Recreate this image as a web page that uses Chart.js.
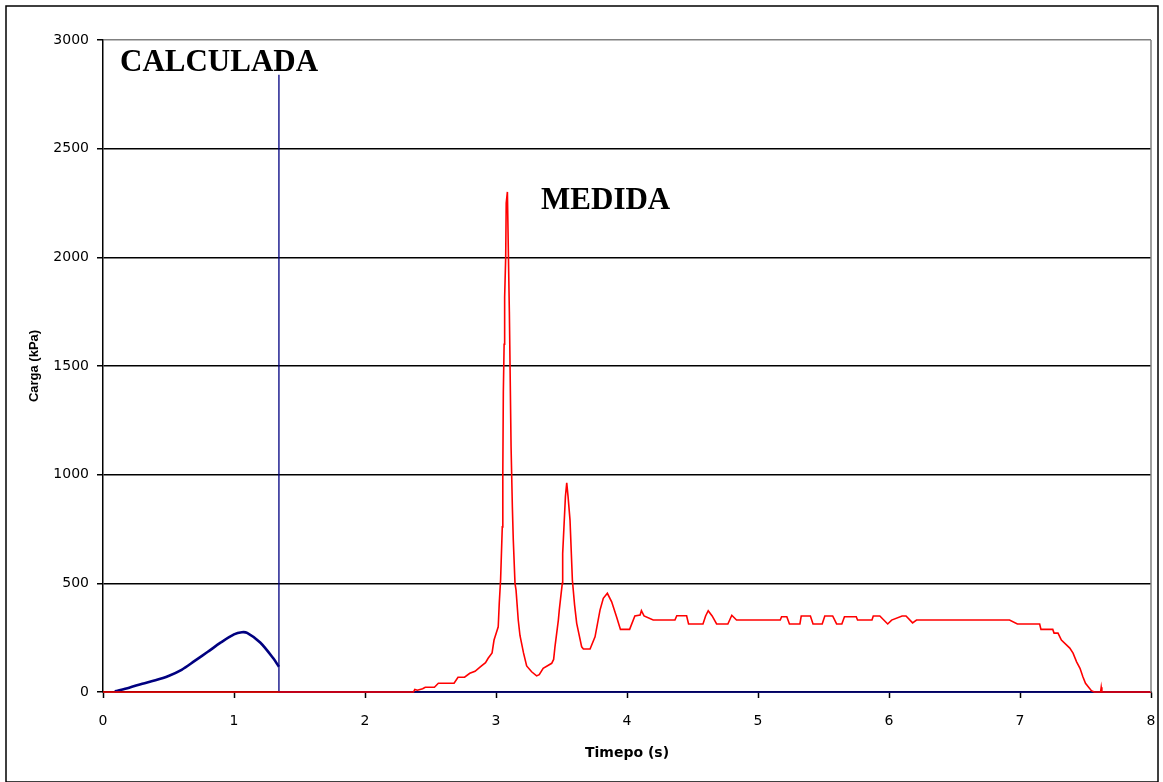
<!DOCTYPE html>
<html>
<head>
<meta charset="utf-8">
<script src="https://cdn.jsdelivr.net/npm/chart.js@4"></script>
<style>
  html, body { margin: 0; padding: 0; background: #fff; }
  #wrap { width: 1163px; height: 782px; }
</style>
</head>
<body>
<div id="wrap"><canvas id="myChart" width="1163" height="782"></canvas></div>
<script>
// calculated load (s, kPa)
const calcTime = [0.09, 0.2, 0.3, 0.4, 0.5, 0.6, 0.7, 0.8, 0.9, 1.0, 1.06, 1.1, 1.2, 1.3, 1.343];
const calcLoad = [3, 20, 38, 54, 74, 102, 143, 185, 228, 265, 275, 272, 228, 155, 116];

// vertical marker + zero tail of the calculated series
const markTime = [1.343, 1.343, 1.343, 8];
const markLoad = [116, 2840, 0, 0];

// measured load (s, kPa)
const measTime = [0, 2.37, 2.38, 2.40, 2.44, 2.46, 2.53, 2.56, 2.68, 2.71, 2.76, 2.80, 2.84, 2.88, 2.92, 2.94, 2.97, 2.985,
    3.005, 3.017, 3.025, 3.035, 3.048, 3.052, 3.056, 3.062, 3.066, 3.074, 3.078, 3.087, 3.095, 3.102, 3.107, 3.115,
    3.125, 3.132, 3.145, 3.153, 3.170, 3.183, 3.21, 3.234, 3.272, 3.31, 3.33, 3.36, 3.425, 3.44, 3.45, 3.476, 3.483,
    3.506, 3.509, 3.53, 3.54, 3.55, 3.565, 3.583, 3.6, 3.616, 3.654, 3.667, 3.718, 3.756, 3.794, 3.819, 3.85, 3.883,
    3.92, 3.95, 4.02, 4.06, 4.1, 4.11, 4.13, 4.2, 4.366, 4.38, 4.455, 4.47, 4.58, 4.60, 4.62, 4.65, 4.684, 4.77, 4.8,
    4.836, 5.17, 5.18, 5.22, 5.24, 5.32, 5.33, 5.40, 5.42, 5.49, 5.51, 5.57, 5.60, 5.64, 5.66, 5.75, 5.76, 5.87, 5.88,
    5.93, 5.99, 6.02, 6.10, 6.13, 6.18, 6.21, 6.92, 6.98, 7.15, 7.16, 7.25, 7.26, 7.29, 7.316, 7.38, 7.405, 7.432,
    7.458, 7.48, 7.50, 7.53, 7.545, 7.567, 7.615, 7.62, 7.625, 8];
const measLoad = [0, 0, 12, 8, 15, 22, 22, 40, 40, 68, 68, 86, 95, 116, 135, 155, 180, 239,
    277, 300, 410, 515, 760, 1006, 1380, 1600, 1818, 2000, 2250, 2301, 2000, 1750, 1512, 1128,
    850, 699, 500, 469, 330, 260, 180, 120, 93, 74, 80, 109, 132, 150, 208, 331, 377,
    500, 638, 900, 963, 900, 791, 515, 400, 316, 208, 198, 198, 254, 377, 431, 454, 415,
    346, 288, 288, 350, 354, 374, 350, 331, 331, 351, 351, 313, 313, 350, 374, 350, 313, 313, 353,
    331, 331, 346, 346, 313, 313, 350, 350, 313, 313, 350, 350, 313, 313, 346, 346, 331, 331, 350,
    350, 313, 331, 350, 350, 318, 331, 331, 313, 313, 288, 288, 271, 271, 239, 202, 179, 139,
    109, 70, 40, 17, 6, 0, 0, 22, 0, 0];

const xTicks = [0, 1, 2, 3, 4, 5, 6, 7, 8];
const yTicks = [0, 500, 1000, 1500, 2000, 2500, 3000];

const toPoints = (xs, ys) => xs.map((x, i) => ({ x: x, y: ys[i] }));

const NAVY = '#000080';
const RED = '#ff0000';

// text labels, frame, right border
const extras = {
    id: 'extras',
    afterDatasetsDraw(chart) {
        const ctx = chart.ctx;
        const xs = chart.scales.x, ys = chart.scales.y;
        const a = chart.chartArea;
        ctx.save();
        ctx.strokeStyle = '#808080';
        ctx.lineWidth = 1.5;
        ctx.beginPath();
        ctx.moveTo(a.right, a.top);
        ctx.lineTo(a.right, a.bottom);
        ctx.stroke();

        ctx.fillStyle = '#000';
        ctx.font = 'bold 31px "Liberation Serif", "Times New Roman", serif';
        ctx.textBaseline = 'alphabetic';
        ctx.textAlign = 'left';
        ctx.fillText('CALCULADA', xs.getPixelForValue(0.13), ys.getPixelForValue(2857));
        ctx.fillText('MEDIDA', xs.getPixelForValue(3.344), ys.getPixelForValue(2222));
        ctx.restore();
    },
    afterDraw(chart) {
        const ctx = chart.ctx;
        ctx.save();
        ctx.strokeStyle = '#000';
        ctx.lineWidth = 1.5;
        ctx.strokeRect(6, 6, chart.width - 11, chart.height - 6);
        ctx.restore();
    }
};

const ctx = document.getElementById('myChart').getContext('2d');
new Chart(ctx, {
    type: 'scatter',
    data: {
        datasets: [{
            label: 'Medida',
            data: toPoints(measTime, measLoad),
            showLine: true,
            borderColor: RED,
            borderWidth: 1.6,
            pointRadius: 0,
            tension: 0,
            clip: 4,
            order: 1
        }, {
            label: 'Calculada',
            data: toPoints(calcTime, calcLoad),
            showLine: true,
            borderColor: NAVY,
            borderWidth: 2.6,
            pointRadius: 0,
            tension: 0.3,
            clip: 4,
            order: 2
        }, {
            label: 'Calculada marca',
            data: toPoints(markTime, markLoad),
            showLine: true,
            borderColor: NAVY,
            borderWidth: 1.3,
            pointRadius: 0,
            tension: 0,
            clip: 4,
            order: 3
        }]
    },
    options: {
        responsive: false,
        animation: false,
        layout: { padding: { left: 0, top: 40, right: 12, bottom: 0 } },
        plugins: {
            legend: { display: false },
            tooltip: { enabled: false }
        },
        scales: {
            x: {
                type: 'linear',
                min: 0,
                max: 8,
                afterFit: s => { s.height = 90; s.paddingLeft = 0; s.paddingRight = 0; },
                afterBuildTicks: s => { s.ticks = xTicks.map(v => ({ value: v })); },
                ticks: {
                    color: '#000',
                    padding: 15,
                    maxRotation: 0,
                    callback: v => String(v),
                    font: { family: '"DejaVu Sans", sans-serif', size: 14 }
                },
                grid: {
                    drawOnChartArea: false,
                    drawTicks: true,
                    tickLength: 6,
                    tickColor: '#000',
                    tickWidth: 1.5
                },
                border: { color: '#000', width: 1.5 },
                title: {
                    display: true,
                    text: 'Timepo (s)',
                    color: '#000',
                    padding: { top: 0, bottom: 20.6 },
                    font: { family: '"DejaVu Sans", sans-serif', size: 14, weight: 'bold', lineHeight: 1.2 }
                }
            },
            y: {
                min: 0,
                max: 3000,
                afterFit: s => { s.width = 103; s.paddingTop = 0; s.paddingBottom = 0; },
                afterBuildTicks: s => { s.ticks = yTicks.map(v => ({ value: v })); },
                ticks: {
                    color: '#000',
                    padding: 8,
                    callback: v => String(v),
                    font: { family: '"DejaVu Sans", sans-serif', size: 14 }
                },
                grid: {
                    color: c => (c.tick && c.tick.value === 3000 ? '#808080' : '#000'),
                    lineWidth: 1.5,
                    tickLength: 6,
                    tickColor: '#000',
                    tickWidth: 1.5
                },
                border: { color: '#000', width: 1.5 },
                title: {
                    display: true,
                    text: 'Carga (kPa)',
                    color: '#000',
                    padding: { top: 26.6, bottom: 0 },
                    font: { family: '"Liberation Sans", Arial, sans-serif', size: 13, weight: 'bold', lineHeight: 1.2 }
                }
            }
        }
    },
    plugins: [extras]
});
</script>
</body>
</html>
